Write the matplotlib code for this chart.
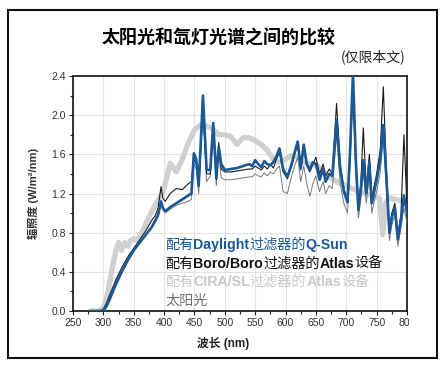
import matplotlib
matplotlib.use("Agg")
import matplotlib.pyplot as plt
from matplotlib.patches import Rectangle
from matplotlib.transforms import Bbox, TransformedBbox

# wavelength grid (nm) shared by the three lamp curves
lamp_wl = [280, 290, 295, 300, 305, 310, 320, 330, 340, 350, 360, 370, 380, 385, 390,
           395, 398, 402, 410, 420, 430, 440, 445, 449, 453, 457, 464, 470, 476, 481,
           486, 490, 494, 500, 510, 520, 530, 540, 545, 550, 555, 560, 565, 570, 575,
           580, 585, 590, 596, 603, 610, 615, 620, 625, 630, 635, 640, 645, 650, 656,
           662, 666, 672, 677, 684, 690, 696, 702, 706, 711, 716, 720, 724, 728, 733,
           738, 742, 746, 750, 756, 761, 766, 771, 775, 780, 785, 790, 795, 800]

qsun_daylight = [0, 0, 0, 0.01, 0.05, 0.12, 0.27, 0.40, 0.52, 0.62, 0.70, 0.78, 0.86, 0.92, 0.98,
                 1.12, 1.05, 1.02, 1.06, 1.10, 1.14, 1.18, 1.20, 1.61, 1.55, 1.28, 2.20, 1.44, 1.44, 1.92,
                 1.36, 1.68, 1.50, 1.44, 1.45, 1.46, 1.48, 1.50, 1.48, 1.54, 1.50, 1.47, 1.53, 1.50, 1.49,
                 1.52, 1.58, 1.66, 1.45, 1.37, 1.50, 1.62, 1.73, 1.46, 1.70, 1.50, 1.44, 1.52, 1.50, 1.34,
                 1.45, 1.32, 1.40, 1.38, 1.95, 1.45, 1.22, 1.11, 1.60, 2.42, 1.50, 1.03, 1.25, 1.54, 1.20,
                 1.52, 1.10, 1.22, 1.34, 1.55, 1.90, 1.37, 0.80, 0.95, 1.06, 0.73, 0.93, 1.18, 1.00]

atlas_boro = [0, 0, 0, 0.02, 0.08, 0.16, 0.31, 0.44, 0.55, 0.64, 0.73, 0.82, 0.93, 0.97, 1.05,
              1.27, 1.15, 1.12, 1.20, 1.25, 1.24, 1.30, 1.32, 1.55, 1.50, 1.30, 2.05, 1.40, 1.40, 1.90,
              1.34, 1.72, 1.45, 1.42, 1.42, 1.43, 1.44, 1.45, 1.45, 1.48, 1.46, 1.44, 1.48, 1.45, 1.50,
              1.46, 1.55, 1.62, 1.42, 1.35, 1.48, 1.60, 1.70, 1.44, 1.66, 1.48, 1.42, 1.50, 1.57, 1.40,
              1.50, 1.38, 1.45, 1.40, 2.12, 1.50, 1.25, 1.15, 1.55, 2.30, 1.45, 1.08, 1.30, 1.87, 1.25,
              1.60, 1.15, 1.28, 1.40, 1.65, 2.29, 1.45, 0.85, 1.00, 1.10, 0.78, 0.98, 1.80, 1.05]

atlas_cira = [0, 0, 0, 0, 0.03, 0.09, 0.24, 0.38, 0.50, 0.61, 0.70, 0.78, 0.86, 0.90, 0.96,
              1.10, 1.04, 1.00, 1.04, 1.08, 1.10, 1.12, 1.14, 1.50, 1.45, 1.20, 2.05, 1.32, 1.38, 1.80,
              1.28, 1.62, 1.36, 1.34, 1.34, 1.35, 1.36, 1.37, 1.37, 1.40, 1.38, 1.37, 1.41, 1.38, 1.42,
              1.40, 1.45, 1.48, 1.22, 1.20, 1.38, 1.48, 1.57, 1.32, 1.48, 1.30, 1.17, 1.30, 1.38, 1.22,
              1.32, 1.20, 1.28, 1.25, 1.80, 1.30, 1.10, 1.00, 1.45, 2.25, 1.35, 0.95, 1.15, 1.42, 1.10,
              1.40, 1.00, 1.12, 1.22, 1.42, 1.80, 1.25, 0.72, 0.88, 0.98, 0.66, 0.85, 1.05, 0.90]

# sunlight
sun_wl = [280, 290, 295, 300, 305, 310, 315, 320, 325, 330, 335, 340, 345, 350, 355, 365, 375,
          385, 395, 400, 410, 420, 430, 440, 450, 460, 470, 480, 490, 500, 510, 520, 530,
          540, 550, 560, 570, 580, 590, 600, 610, 620, 630, 640, 650, 660, 670, 680, 690,
          700, 710, 720, 730, 740, 750, 755, 760, 765, 770, 780, 790, 800]
sunlight = [0, 0, 0.01, 0.03, 0.12, 0.28, 0.45, 0.60, 0.70, 0.62, 0.70, 0.66, 0.72, 0.74, 0.72,
            0.82, 0.96, 1.08, 1.18, 1.25, 1.51, 1.42, 1.55, 1.72, 1.85, 1.90, 1.89, 1.86, 1.80,
            1.80, 1.78, 1.70, 1.77, 1.77, 1.74, 1.70, 1.64, 1.55, 1.52, 1.55, 1.59, 1.57, 1.52,
            1.50, 1.49, 1.44, 1.38, 1.34, 1.30, 1.28, 1.25, 1.22, 1.20, 1.18, 1.16, 1.15, 0.78,
            1.10, 1.16, 1.14, 1.13, 1.12]

# legend lines, split into (text, bold?) pieces
legend_parts = [
    [("配有", False), ("Daylight", True), ("过滤器的", False), ("Q-Sun", True)],
    [("配有", False), ("Boro/Boro", True), ("过滤器的", False), ("Atlas", True), ("设备", False)],
    [("配有", False), ("CIRA/SL", True), ("过滤器的", False), ("Atlas", True), ("设备", False)],
    [("太阳光", False)],
]

FONTS = ['Liberation Sans', 'Noto Sans CJK SC', 'DejaVu Sans']
plt.rcParams['font.family'] = FONTS

W, H = 445, 367
fig = plt.figure(figsize=(W / 100, H / 100), dpi=100)
ax = fig.add_axes([73 / W, 1 - 311 / H, (407 - 73) / W, (311 - 76) / H])

blue = '#1a5898'
ax.plot(sun_wl, sunlight, color='#d0d0d0', lw=3.8, solid_joinstyle='round', zorder=2)
ax.plot(lamp_wl, atlas_cira, color='#777777', lw=0.7, zorder=3)
ax.plot(lamp_wl, atlas_boro, color='#1a1a1a', lw=0.8, zorder=4)
ax.plot(lamp_wl, qsun_daylight, color=blue, lw=1.9, zorder=5)

ax.set_xlim(250, 800)
ax.set_ylim(0, 2.4)
ax.set_xticks(range(250, 801, 50))
ax.set_xticks(range(275, 800, 50), minor=True)
ax.set_yticks([0, 0.4, 0.8, 1.2, 1.6, 2.0, 2.4])
ax.set_yticks([0.2, 0.6, 1.0, 1.4, 1.8, 2.2], minor=True)
ax.set_yticklabels([f"{v:.1f}" for v in [0, 0.4, 0.8, 1.2, 1.6, 2.0, 2.4]])
ax.tick_params(which='both', direction='out', length=3, width=0.8, colors='#222',
               labelsize=7.5, labelcolor='#333', pad=2)
ax.tick_params(which='minor', length=2)
ax.grid(which='major', color='#e3e3e3', lw=0.8)
ax.set_axisbelow(True)
for s in ax.spines.values():
    s.set_linewidth(1.2)
    s.set_color('#111')

ax.set_ylabel("辐照度 (W/m²/nm)", fontsize=8, fontweight='bold', color='#333')
ax.yaxis.set_label_coords((39 - 73) / 334, 0.5)
ax.set_xlabel("波长 (nm)", fontsize=8.5, fontweight='bold', color='#222')
ax.xaxis.set_label_coords((223 - 73) / 334, -(343 - 311) / 235)
ax.xaxis.label.set_va('center')

fig.text(219 / W, 1 - 38 / H, "太阳光和氙灯光谱之间的比较", ha='center', va='center',
         fontsize=13, fontweight='bold', family=['Noto Sans CJK SC'])
fig.text(405 / W, 1 - 57 / H, "(仅限本文)", ha='right', va='center',
         fontsize=10, family=['Noto Sans CJK SC'], color='#222')

# colored text block standing in for the legend; pieces laid side by side on one baseline
renderer = fig.canvas.get_renderer()
text_colors = [blue, '#111111', '#c8c8c8', '#707070']
for i, (parts, c) in enumerate(zip(legend_parts, text_colors)):
    x_px = 165
    y_fig = 1 - (249 + i * 18.5) / H
    for txt, bold in parts:
        t = fig.text(x_px / W, y_fig, txt, fontsize=10.2, color=c,
                     fontweight='bold' if bold else 'medium', ha='left', va='baseline')
        x_px += t.get_window_extent(renderer=renderer).width

fig.canvas.draw()
# last x label is cut by the frame in the original
last = ax.get_xticklabels()[-1]
last.set_clip_on(True)
last.set_clip_box(TransformedBbox(Bbox([[0, 0], [409 / W, 1]]), fig.transFigure))

fig.add_artist(Rectangle((8 / W, 1 - 358 / H), (437 - 8) / W, (358 - 10) / H,
                         transform=fig.transFigure, fill=False, lw=1.5, ec='#111'))

fig.savefig("out.png", dpi=100)
